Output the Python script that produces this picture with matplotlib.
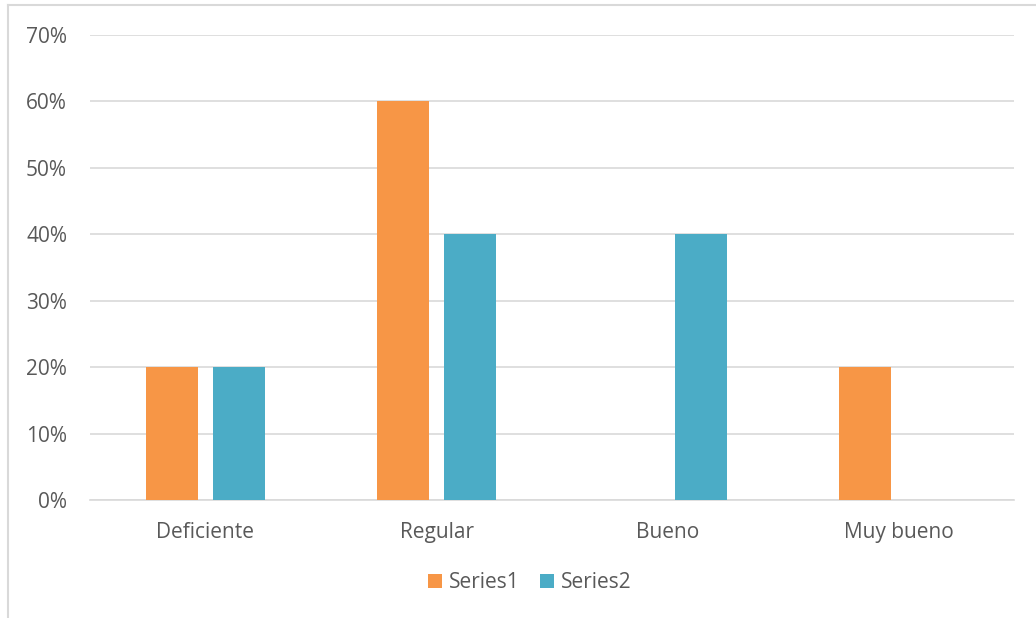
import matplotlib.pyplot as plt
import numpy as np
from matplotlib.lines import Line2D

#%% data
categories = ['Deficiente', 'Regular', 'Bueno', 'Muy bueno']
series1 = [0.20, 0.60, 0.0, 0.20]
series2 = [0.20, 0.40, 0.40, 0.0]
yticks = [0, 0.1, 0.2, 0.3, 0.4, 0.5, 0.6, 0.7]

#%% plot
plt.rcParams['font.family'] = ['Open Sans', 'DejaVu Sans']
txt = '#595959'
fs = 15

fig = plt.figure(figsize=(10.36, 6.18), dpi=100)
ax = fig.add_axes([90/1036, 1 - 500/618, 924/1036, 465/618])

x = np.arange(len(categories))
w = 0.225
off = 0.143
ax.bar(x - off, series1, w, color='#F79646', label='Series1', zorder=3)
ax.bar(x + off, series2, w, color='#4BACC6', label='Series2', zorder=3)

ax.set_xlim(-0.5, len(categories) - 0.5)
ax.set_ylim(0, 0.7)
ax.set_yticks(yticks)
ax.set_yticklabels(['%d%%' % round(v * 100) for v in yticks])
ax.set_xticks(x)
ax.set_xticklabels(categories)
ax.tick_params(axis='both', length=0, labelsize=fs, colors=txt)
ax.tick_params(axis='y', pad=16.5)
ax.tick_params(axis='x', pad=16)
ax.grid(axis='y', color='#D9D9D9', linewidth=1.2, zorder=0)
for s in ['top', 'right', 'left']:
    ax.spines[s].set_visible(False)
ax.spines['bottom'].set_color('#D9D9D9')
ax.spines['bottom'].set_linewidth(1.2)

leg = fig.legend(loc='center', bbox_to_anchor=(530/1036, 1 - 583/618), ncol=2,
                 frameon=False, fontsize=fs, handlelength=0.65, handleheight=0.65,
                 handletextpad=0.35, columnspacing=1.0)
for t in leg.get_texts():
    t.set_color(txt)

# chart border (only left and top visible in the crop)
fig.add_artist(Line2D([8/1036, 8/1036], [0, 1 - 5/618], color='#D9D9D9', linewidth=1.5))
fig.add_artist(Line2D([8/1036, 1], [1 - 5/618, 1 - 5/618], color='#D9D9D9', linewidth=1.5))

fig.savefig('out.png', dpi=100)
